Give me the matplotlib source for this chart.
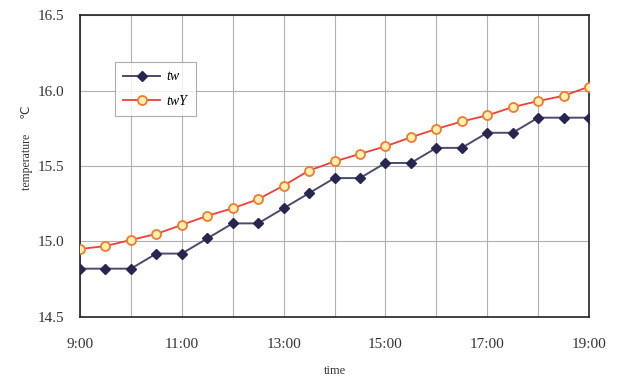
import numpy as np
import matplotlib.pyplot as plt

# half-hourly readings, 9:00 to 19:00
hours = np.arange(9.0, 19.01, 0.5)
tw = [14.82, 14.82, 14.82, 14.92, 14.92, 15.02, 15.12, 15.12, 15.22, 15.32, 15.42,
      15.42, 15.52, 15.52, 15.62, 15.62, 15.72, 15.72, 15.82, 15.82, 15.82]
twY = [14.95, 14.97, 15.01, 15.05, 15.11, 15.17, 15.22, 15.28, 15.37, 15.47, 15.53,
       15.58, 15.63, 15.69, 15.745, 15.795, 15.835, 15.89, 15.93, 15.965, 16.025]
xticks = [9, 11, 13, 15, 17, 19]
xticklabels = ['9:00', '11:00', '13:00', '15:00', '17:00', '19:00']
yticks = [14.5, 15.0, 15.5, 16.0, 16.5]

plt.rcParams['font.family'] = ['Liberation Serif', 'DejaVu Serif']

fig = plt.figure(figsize=(6.17, 3.79), dpi=100)
ax = fig.add_axes([0.1297, 0.1636, 0.8249, 0.7968])

ax.plot(hours, tw, color='#4a4a6e', lw=1.4, marker='D', ms=5.5,
        mfc='#262650', mec='#262650', label='tw', zorder=3)
ax.plot(hours, twY, color='#ee4038', lw=1.3, marker='o', ms=6.5,
        mfc='#fff0b0', mec='#f07a30', mew=1.3, label='twY', zorder=3)

ax.set_xlim(9, 19)
ax.set_ylim(14.5, 16.5)
ax.set_xticks(xticks)
ax.set_xticklabels(xticklabels)
ax.set_xticks(np.arange(10, 19, 2), minor=True)
ax.set_yticks(yticks)
ax.set_yticklabels(['%.1f' % v for v in yticks])
ax.grid(True, which='both', color='#b0b0b0', lw=0.8)
ax.tick_params(which='both', length=0, labelsize=11, colors='#333333')
ax.tick_params(axis='x', pad=15)
ax.tick_params(axis='y', pad=11)
for s in ax.spines.values():
    s.set_color('#222222')
    s.set_linewidth(1.2)

ax.set_xlabel('time', fontsize=9, color='#333333', labelpad=10)
ax.set_ylabel('temperature     \u2103', fontsize=8.5, color='#333333',
              family=['Liberation Serif', 'DejaVu Sans'])
ax.yaxis.set_label_coords(-0.092, 0.56)

leg = ax.legend(loc='upper left', bbox_to_anchor=(0.069, 0.844),
                prop={'style': 'italic', 'size': 10}, frameon=True, fancybox=False,
                edgecolor='#999999', borderpad=0.6, labelspacing=0.8,
                handlelength=2.6, handletextpad=0.5, borderaxespad=0)
leg.get_frame().set_linewidth(0.8)

fig.savefig('out.png', dpi=100)
